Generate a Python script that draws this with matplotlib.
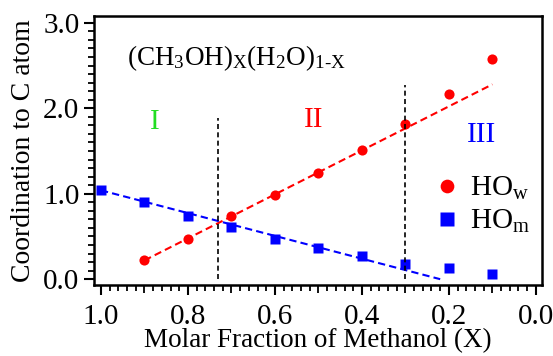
import numpy as np
import matplotlib
matplotlib.use("Agg")
import matplotlib.pyplot as plt
from matplotlib.ticker import MultipleLocator, FormatStrFormatter

plt.rcParams["font.family"] = ["Liberation Serif", "DejaVu Serif"]
plt.rcParams["mathtext.fontset"] = "custom"
plt.rcParams["mathtext.rm"] = "Liberation Serif"
plt.rcParams["mathtext.it"] = "Liberation Serif:italic"

# methanol mole fraction and coordination numbers around the C atom
x_frac = [0.9, 0.8, 0.7, 0.6, 0.5, 0.4, 0.3, 0.2, 0.1]
ho_w = [0.22, 0.465, 0.74, 0.99, 1.24, 1.51, 1.82, 2.17, 2.58]

x_frac_m = [1.0, 0.9, 0.8, 0.7, 0.6, 0.5, 0.4, 0.3, 0.2, 0.1]
ho_m = [1.04, 0.90, 0.74, 0.61, 0.47, 0.36, 0.27, 0.18, 0.125, 0.06]

# linear fits (end points)
fit_w_x = [0.9, 0.1]
fit_w_y = [0.22, 2.28]
fit_m_x = [1.0, 0.22]
fit_m_y = [1.04, 0.0]

# region boundaries: position and height of the dashed markers
bound_x = [0.73, 0.30]
bound_top = [1.89, 2.27]

regions = ["I", "II", "III"]
region_x = [0.876, 0.511, 0.124]
region_y = [1.84, 1.86, 1.69]
region_colors = ["#22dd22", "#ff0000", "#0000ff"]

fig = plt.figure(figsize=(5.53, 3.56), dpi=100)
ax = fig.add_axes([0.170, 0.199, 0.810, 0.756])

ax.plot(fit_w_x, fit_w_y, color="#ff0000", lw=1.5, ls=(0, (3.5, 2)))
ax.plot(fit_m_x, fit_m_y, color="#0000ff", lw=1.5, ls=(0, (3.5, 2)))
ax.plot(x_frac, ho_w, "o", color="#ff0000", ms=7.3, mec="none", label=r"HO$_\mathrm{w}$")
ax.plot(x_frac_m, ho_m, "s", color="#0000ff", ms=7.0, mec="none", label=r"HO$_\mathrm{m}$")

for bx, top in zip(bound_x, bound_top):
    ax.vlines(bx, 0.0, top, color="black", lw=1.2, linestyles=(0, (3, 2)))

for txt, rx, ry, c in zip(regions, region_x, region_y, region_colors):
    ax.text(rx, ry, txt, color=c, fontsize=21, ha="center", va="center")

ax.text(0.940, 2.59, r"$\mathrm{(CH_3OH)_X(H_2O)_{1\text{-}X}}$",
        fontsize=19.5, ha="left", va="center")

ax.legend(loc="center left", bbox_to_anchor=(0.748, 0.297), frameon=False,
          fontsize=21, handletextpad=0.2, labelspacing=0.2,
          markerscale=1.35, handlelength=1.2, borderaxespad=0,
          borderpad=0)

ax.set_xlim(1.016, -0.014)
ax.set_ylim(-0.07, 3.08)
ax.xaxis.set_major_locator(MultipleLocator(0.2))
ax.xaxis.set_minor_locator(MultipleLocator(0.02))
ax.yaxis.set_major_locator(MultipleLocator(1.0))
ax.yaxis.set_minor_locator(MultipleLocator(0.1))
ax.xaxis.set_major_formatter(FormatStrFormatter("%.1f"))
ax.yaxis.set_major_formatter(FormatStrFormatter("%.1f"))

ax.tick_params(which="major", direction="out", length=7.5, width=1.5,
               labelsize=21)
ax.tick_params(axis="x", which="major", pad=6)
ax.tick_params(axis="y", which="major", pad=3)
ax.tick_params(which="minor", direction="out", length=4, width=1.3)

# longer minor ticks at the odd tenths of the x axis
minor_locs = ax.xaxis.get_minorticklocs()
for loc, tick in zip(minor_locs, ax.xaxis.get_minor_ticks(len(minor_locs))):
    if abs(loc * 10 - round(loc * 10)) < 1e-6:
        tick.tick1line.set_markersize(5.5)

for sp in ax.spines.values():
    sp.set_linewidth(1.8)

ax.set_xlabel("Molar Fraction of Methanol (X)", fontsize=19.5, labelpad=-1)
ax.set_ylabel("Coordination to C atom", fontsize=20, labelpad=5)

fig.savefig("out.png", dpi=100)
